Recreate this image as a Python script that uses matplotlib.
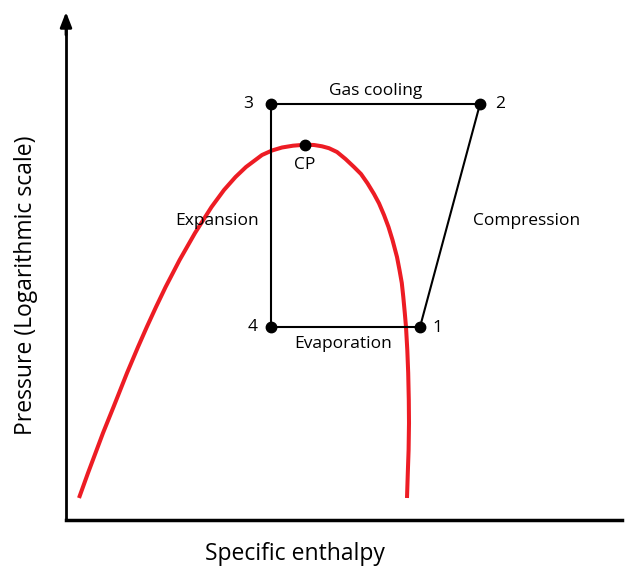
import matplotlib.pyplot as plt
import numpy as np

# saturation dome (specific enthalpy, pressure in arbitrary chart units)
dome_h = [13, 22, 37, 47.5, 61, 72, 80.8, 90, 99.6, 113.6, 129, 145.5, 158, 169.5, 180, 196,
          206, 216, 227, 239, 248, 256, 263, 271, 279.5, 288, 295, 301.5, 308, 313, 318, 322.5,
          326.5, 331, 333.5, 335.8, 337.3, 338.8, 340, 341.3, 342.2, 342.8, 343, 342.6, 341.8, 341]
dome_p = [22, 47, 87, 113, 147, 173, 193, 213, 233, 260, 287, 313, 330, 343, 353, 365,
          369.5, 372.5, 374.3, 375.3, 375, 373.7, 371.8, 368, 361, 353, 346, 336.7, 326, 316.7, 305, 293,
          280, 263, 250, 237, 223, 207, 193, 170, 147, 120, 97, 70, 47, 22]

# cycle states 1..4
state_names = ["1", "2", "3", "4"]
state_h = [354, 414, 205, 205]
state_p = [193, 416, 416, 193]
cp_h, cp_p = 239, 375

plt.rcParams['font.family'] = ['Open Sans', 'DejaVu Sans']

fig = plt.figure(figsize=(6.27, 5.66), dpi=100)
ax = fig.add_axes([66 / 627, 46 / 566, 556 / 627, 508 / 566])
ax.set_xlim(0, 556)
ax.set_ylim(0, 508)

ax.plot(dome_h, dome_p, color='#ED1C24', lw=2.9, solid_capstyle='butt',
        solid_joinstyle='round', zorder=2)

# cycle: 1 -> 2 -> 3 -> 4 -> 1
cyc_h = state_h + [state_h[0]]
cyc_p = state_p + [state_p[0]]
ax.plot(cyc_h, cyc_p, color='black', lw=1.5, zorder=3)
ax.plot(state_h, state_p, 'o', color='black', ms=7.5, zorder=4)
ax.plot([cp_h], [cp_p], 'o', color='black', ms=7.5, zorder=4)

fs = 12.5
offsets = {"1": (17, -1), "2": (20, 0), "3": (-23, 0), "4": (-18, 0)}
for name, h, p in zip(state_names, state_h, state_p):
    dx, dy = offsets[name]
    ax.text(h + dx, p + dy, name, fontsize=fs, ha='center', va='center')
ax.text(cp_h, cp_p - 20, "CP", fontsize=fs, ha='center', va='center')

ax.text(310, 429, "Gas cooling", fontsize=fs, ha='center', va='center')
ax.text(151, 299, "Expansion", fontsize=fs, ha='center', va='center')
ax.text(461, 299, "Compression", fontsize=fs, ha='center', va='center')
ax.text(277, 176, "Evaporation", fontsize=fs, ha='center', va='center')

for s in ['top', 'right']:
    ax.spines[s].set_visible(False)
ax.spines['left'].set_linewidth(2)
ax.spines['bottom'].set_linewidth(2.5)
ax.spines['left'].set_bounds(0, 490)
ax.set_xticks([])
ax.set_yticks([])
ax.annotate('', xy=(0, 508), xytext=(0, 485),
            arrowprops=dict(arrowstyle='-|>,head_length=0.9,head_width=0.35',
                            color='black', lw=2, shrinkA=0, shrinkB=0),
            annotation_clip=False)

ax.set_xlabel("Specific enthalpy", fontsize=16.5)
ax.set_ylabel("Pressure (Logarithmic scale)", fontsize=16.5)
ax.xaxis.set_label_coords(0.412, -0.043)
ax.yaxis.set_label_coords(-0.05, 0.463)

fig.savefig("out.png", dpi=100)
